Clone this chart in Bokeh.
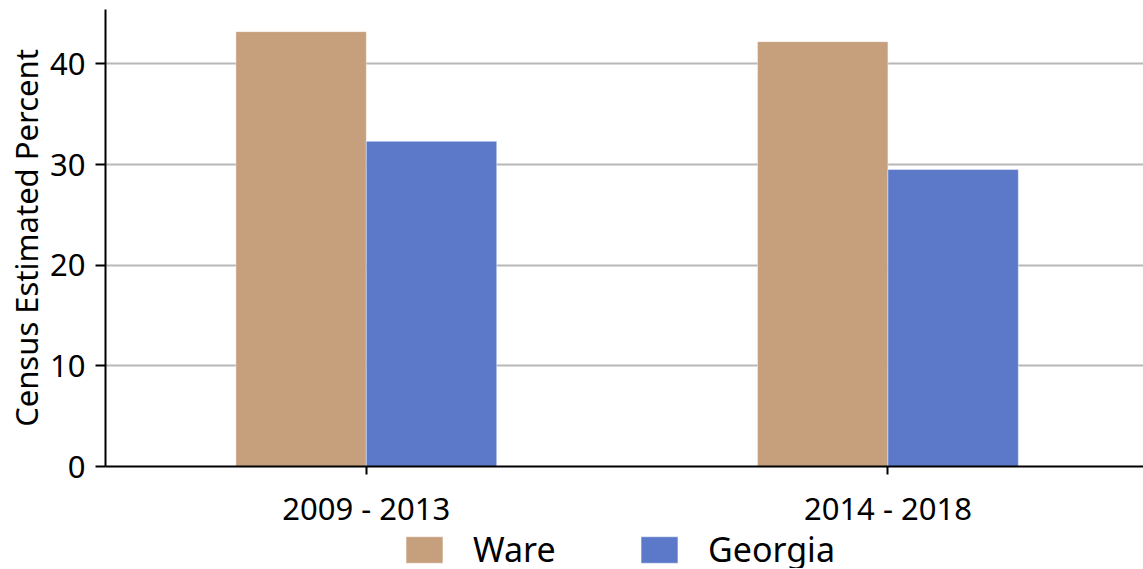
from bokeh.plotting import figure
from bokeh.models import ColumnDataSource, Range1d, FixedTicker, Legend, LegendItem
from bokeh.layouts import column
from bokeh.embed import file_html
from bokeh.resources import INLINE

periods = ["2009 - 2013", "2014 - 2018"]
ware = [43.2, 42.2]
georgia = [32.3, 29.5]
series_names = ["Ware", "Georgia"]
colors = ["#C69F7C", "#5B79C8"]

FONT = "Noto Sans"
bar_w = 0.25
centers = [i + 0.5 for i in range(len(periods))]

p = figure(frame_width=1038, frame_height=457, output_backend="svg", toolbar_location=None,
           x_range=Range1d(0, 1.99), y_range=Range1d(0, 45.4),
           min_border_left=105, min_border_right=0, min_border_top=9, min_border_bottom=60)
p.outline_line_color = None
p.background_fill_color = "white"

src_w = ColumnDataSource(dict(x=[c - bar_w / 2 for c in centers], top=ware))
src_g = ColumnDataSource(dict(x=[c + bar_w / 2 for c in centers], top=georgia))
p.vbar(x="x", top="top", width=bar_w, source=src_w, fill_color=colors[0],
       line_color="white", line_alpha=0.4, line_width=1)
p.vbar(x="x", top="top", width=bar_w, source=src_g, fill_color=colors[1],
       line_color="white", line_alpha=0.4, line_width=1)

p.xgrid.visible = False
p.ygrid.grid_line_color = "#b8b8b8"
p.ygrid.grid_line_width = 2
p.ygrid.ticker = FixedTicker(ticks=[0, 10, 20, 30, 40])

p.xaxis.ticker = FixedTicker(ticks=centers)
p.xaxis.major_label_overrides = {c: lab for c, lab in zip(centers, periods)}
p.yaxis.ticker = FixedTicker(ticks=[0, 10, 20, 30, 40])

for ax in (p.xaxis[0], p.yaxis[0]):
    ax.axis_line_color = "black"
    ax.axis_line_width = 2
    ax.major_tick_line_color = "black"
    ax.major_tick_line_width = 2
    ax.minor_tick_line_color = None
    ax.major_tick_in = 0
    ax.major_label_text_font = FONT
    ax.major_label_text_font_size = "31px"
    ax.major_label_text_color = "black"

p.xaxis.major_tick_out = 8
p.yaxis.major_tick_out = 10
p.xaxis.major_label_standoff = 12
p.yaxis.major_label_standoff = 10
p.yaxis.axis_label = "Census Estimated Percent"
p.yaxis.axis_label_text_font = FONT
p.yaxis.axis_label_text_font_size = "31px"
p.yaxis.axis_label_text_font_style = "normal"
p.yaxis.axis_label_text_color = "black"
p.yaxis.axis_label_standoff = 0

# legend row (frames are aligned with the chart above by the column layout)
lf = figure(width=1143, height=37, output_backend="svg", toolbar_location=None,
            x_range=Range1d(0, 1), y_range=Range1d(0, 1),
            x_axis_type=None, y_axis_type=None, min_border=0)
lf.outline_line_color = None
lf.grid.visible = False
offscreen = ColumnDataSource(dict(x=[5.0], top=[1.0]))
d1 = lf.vbar(x="x", top="top", width=0.1, source=offscreen, fill_color=colors[0],
             line_color="white", line_alpha=0.4)
d2 = lf.vbar(x="x", top="top", width=0.1, source=offscreen, fill_color=colors[1],
             line_color="white", line_alpha=0.4)
legend = Legend(items=[LegendItem(label=series_names[0], renderers=[d1]),
                       LegendItem(label=series_names[1], renderers=[d2])],
                orientation="horizontal", location=(296, -4),
                label_text_font=FONT, label_text_font_size="34px", label_text_color="black",
                glyph_width=46, glyph_height=33, label_standoff=26, spacing=73,
                label_width=90,
                border_line_color=None, background_fill_alpha=0,
                padding=0, margin=0)
lf.add_layout(legend, "center")

layout = column(p, lf, spacing=0)
open("out.html", "w").write(file_html(layout, INLINE))
